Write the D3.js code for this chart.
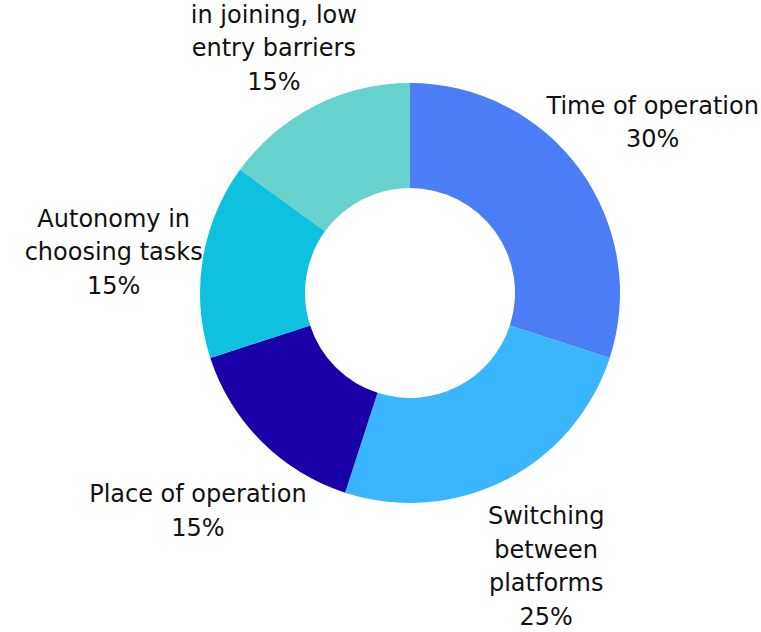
<!DOCTYPE html>
<html>
<head>
<meta charset="utf-8">
<script src="https://cdn.jsdelivr.net/npm/d3@7"></script>
<style>
  body { margin: 0; background: #fff; }
  svg { display: block; }
  text { font-family: "DejaVu Sans", "Noto Sans", sans-serif; fill: #111; }
</style>
</head>
<body>
<div id="donut"></div>
<script>
// chart data
const labels = [
  ["Time of operation"],
  ["Switching", "between", "platforms"],
  ["Place of operation"],
  ["Autonomy in", "choosing tasks"],
  ["Flexibility", "in joining, low", "entry barriers"]
];
const shares = [30, 25, 15, 15, 15];
const colors = ["#4B7EF6", "#39B6FE", "#1900A7", "#0DC1DF", "#67D1CE"];

const width = 761, height = 632;
const cx = 410, cy = 293;
const outerR = 210, innerR = 105, labelR = 300;
const lineH = 33.5;

const svg = d3.select("#donut")
  .append("svg")
  .attr("width", width)
  .attr("height", height);

const g = svg.append("g")
  .attr("transform", `translate(${cx},${cy})`);

const pie = d3.pie().sort(null).value(d => d);
const arcs = pie(shares);

const arc = d3.arc().innerRadius(innerR).outerRadius(outerR);

g.selectAll("path")
  .data(arcs)
  .enter()
  .append("path")
    .attr("d", arc)
    .attr("fill", (d, i) => colors[i]);

// labels: name lines + percent, centred on a point outside the ring
const lab = g.selectAll(".lab")
  .data(arcs)
  .enter()
  .append("text")
    .attr("class", "lab")
    .attr("text-anchor", "middle")
    .attr("font-size", "24px");

lab.each(function(d, i) {
  const mid = (d.startAngle + d.endAngle) / 2;
  const x = Math.sin(mid) * labelR;
  const y = -Math.cos(mid) * labelR + 6;
  const lines = labels[i].concat([shares[i] + "%"]);
  const top = y - (lines.length - 1) * lineH / 2 + 8;
  d3.select(this).selectAll("tspan")
    .data(lines)
    .enter()
    .append("tspan")
      .attr("x", x)
      .attr("y", (t, k) => top + k * lineH)
      .text(t => t);
});
</script>
</body>
</html>
